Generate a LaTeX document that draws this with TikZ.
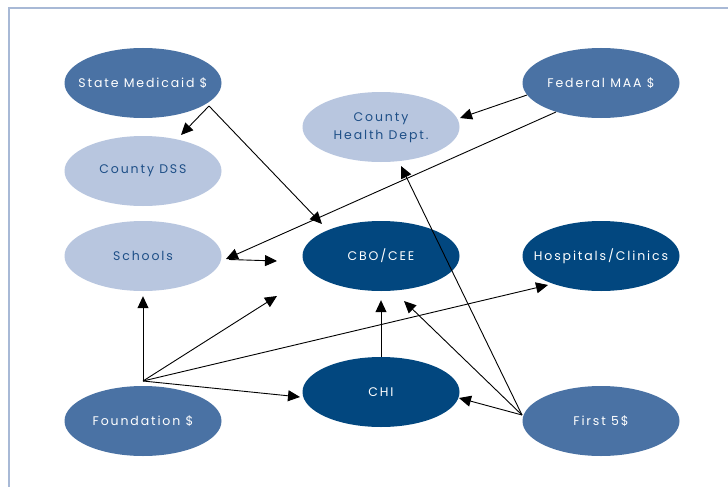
\documentclass[tikz,border=0pt]{standalone}
\usepackage{fontspec}
\newfontfamily\lbl{Poppins}[LetterSpace=15]
\usetikzlibrary{shapes.geometric,arrows.meta}
\definecolor{medblue}{HTML}{4A72A4}
\definecolor{darkblue}{HTML}{02477F}
\definecolor{lightblue}{HTML}{B8C6DF}
\definecolor{txtblue}{HTML}{1E4F87}
\definecolor{framecol}{HTML}{A8B9D6}
\newcommand{\zlab}[1]{\makebox[0pt]{#1}}
\begin{document}
\begin{tikzpicture}[x=1pt,y=-1pt,
  ell/.style={ellipse, minimum width=157pt, minimum height=70pt, inner sep=0pt,
    font=\lbl\fontsize{12.5}{18}\selectfont},
  med/.style={ell, fill=medblue, text=white},
  dark/.style={ell, fill=darkblue, text=white},
  light/.style={ell, fill=lightblue, text=txtblue},
  arr/.style={-{Triangle[length=12pt,width=11pt]}, line width=0.9pt, black}]
\useasboundingbox (0,0) rectangle (728,487);
\fill[white] (0,0) rectangle (728,487);
\draw[framecol, line width=1.3pt] (9,487) -- (9,8) -- (728,8);

\node[med]   (smed) at (143,83)  {\zlab{State Medicaid \$}};
\node[light] (dss)  at (143,171) {\zlab{County DSS}};
\node[light] (sch)  at (143,256) {\zlab{Schools}};
\node[light] (chd)  at (381,127) {\zlab{\begin{tabular}{@{}c@{}}County\\Health Dept.\end{tabular}}};
\node[med]   (fed)  at (601,83)  {\zlab{Federal MAA \$}};
\node[dark]  (cbo)  at (381,256) {\zlab{CBO/CEE}};
\node[dark]  (hosp) at (601,256) {\zlab{Hospitals/Clinics}};
\node[dark]  (chi)  at (381,392) {\zlab{CHI}};
\node[med]   (fnd)  at (143,421) {\zlab{Foundation \$}};
\node[med]   (f5)   at (601,421) {\zlab{First 5\$}};

% hubs and free ends
\coordinate (smo) at (209,106);
\coordinate (fa)  at (527,95);
\coordinate (fb)  at (556,112);
\coordinate (fh)  at (143,381);
\coordinate (fv)  at (522,415);
\coordinate (sr)  at (229,259.5);
\coordinate (free1) at (277,261);
\coordinate (free2) at (277,296);

\draw[arr] (smo) -- (181,135);
\draw[arr] (smo) -- (322,224);
\draw[arr] (fa) -- (460,118);
\draw[arr] (fb) -- (226,259);
\draw[arr] (sr) -- (free1);

\draw[arr, shorten >=5pt] (fh) -- (sch.south);
\draw[arr] (fh) -- (free2);
\draw[arr] (fh) -- (548,285);
\draw[arr] (fh) -- (300,397);

\draw[arr, shorten >=9pt] (chi.north) -- (cbo.south);

\draw[arr] (fv) -- (459,398);
\draw[arr] (fv) -- (404,301);
\draw[arr] (fv) -- (401,166);
\end{tikzpicture}
\end{document}
